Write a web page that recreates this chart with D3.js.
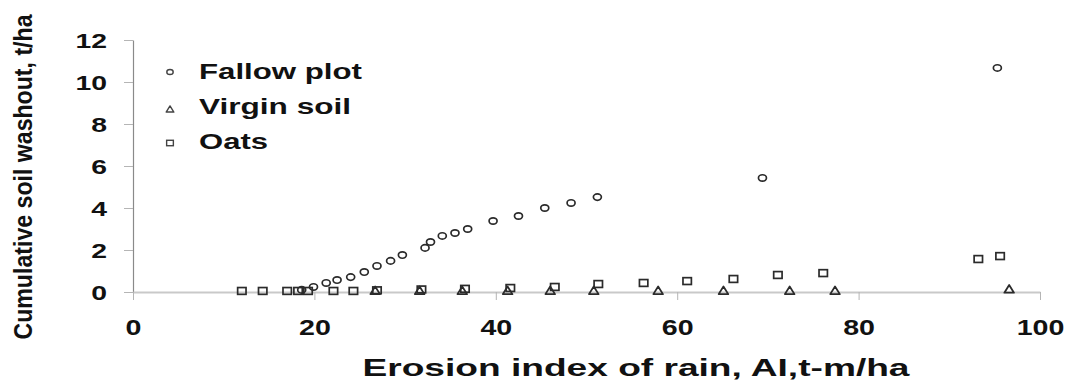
<!DOCTYPE html>
<html><head><meta charset="utf-8">
<script src="https://cdn.jsdelivr.net/npm/d3@7"></script>
<style>body{margin:0;background:#fff}</style>
</head><body><svg id="c" width="1069" height="385"></svg>
<script>
const seriesNames = ["Fallow plot", "Virgin soil", "Oats"];
const fallowX = [18.6,19.9,21.3,22.5,24.0,25.5,26.9,28.4,29.7,32.2,32.8,34.1,35.5,36.9,39.7,42.5,45.4,48.3,51.2,69.4,95.3];
const fallowY = [0.10,0.24,0.43,0.57,0.71,0.95,1.24,1.48,1.76,2.10,2.38,2.67,2.81,3.00,3.38,3.62,4.00,4.24,4.52,5.43,10.67];
const virginX = [26.7,31.6,36.3,41.3,46.0,50.8,57.9,65.1,72.4,77.4,96.6];
const virginY = [0.08,0.08,0.08,0.08,0.08,0.08,0.08,0.08,0.08,0.08,0.15];
const oatsX = [12.0,14.3,17.0,18.2,19.3,22.1,24.3,26.9,31.8,36.6,41.6,46.5,51.3,56.3,61.1,66.2,71.1,76.1,93.2,95.6];
const oatsY = [0.05,0.05,0.05,0.05,0.05,0.05,0.05,0.08,0.12,0.15,0.19,0.24,0.38,0.43,0.52,0.62,0.81,0.90,1.57,1.71];
const xTicks = [0,20,40,60,80,100];
const yTicks = [0,2,4,6,8,10,12];
const xTitle = "Erosion index of rain, AI,t-m/ha";
const yTitle = "Cumulative soil washout, t/ha";

const svg = d3.select("#c");
const FONT = "'Liberation Sans', Arial, sans-serif";
const x = d3.scaleLinear([0,100],[133,1040]);
const y = d3.scaleLinear([0,12],[292,40]);

// y axis
const gy = svg.append("g").attr("transform","translate(133,0)")
  .call(d3.axisLeft(y).tickValues(yTicks).tickSize(9).tickSizeOuter(0));
gy.select(".domain").attr("stroke","#8a8a8a").attr("stroke-width",1.2);
gy.selectAll(".tick line").attr("stroke","#b5b5b5");
gy.selectAll(".tick text").attr("x",null).attr("dy","0.36em")
  .attr("transform","translate(-26,0) scale(1.35,1)")
  .attr("text-anchor","end")
  .style("font-family",FONT).style("font-weight","bold").style("font-size","21px").attr("fill","#111");

// x axis
const gx = svg.append("g").attr("transform","translate(0,292)")
  .call(d3.axisBottom(x).tickValues(xTicks).tickSize(8).tickSizeOuter(0));
gx.select(".domain").attr("stroke","#c9c9c9").attr("stroke-width",2.2);
gx.selectAll(".tick line").attr("stroke","#b5b5b5");
gx.selectAll(".tick text").attr("y",null).attr("dy",null)
  .attr("transform","translate(0,43) scale(1.3,1)")
  .style("font-family",FONT).style("font-weight","bold").style("font-size","22px").attr("fill","#111");

// titles
svg.append("text").attr("x",636).attr("y",376).attr("text-anchor","middle")
  .attr("textLength",547).attr("lengthAdjust","spacingAndGlyphs")
  .style("font-family",FONT).style("font-weight","bold").style("font-size","23px").attr("fill","#111")
  .text(xTitle);
svg.append("text").attr("transform","translate(32,177) scale(1.25,1) rotate(-90)")
  .attr("text-anchor","middle").attr("textLength",325).attr("lengthAdjust","spacingAndGlyphs")
  .style("font-family",FONT).style("font-weight","bold").style("font-size","21px").attr("fill","#111")
  .text(yTitle);

// marker drawers
function circ(g, cx, cy, s, sw, col){
  g.append("ellipse").attr("cx",cx).attr("cy",cy).attr("rx",4*s).attr("ry",3.2*s)
   .attr("fill","none").attr("stroke",col).attr("stroke-width",sw);
}
function tri(g, cx, cy, s, sw, col){
  const w=4.8*s, h=3.8*s;
  g.append("path").attr("d",`M${cx-w},${cy+h}L${cx},${cy-h}L${cx+w},${cy+h}Z`)
   .attr("fill","none").attr("stroke",col).attr("stroke-width",sw).attr("stroke-linejoin","round");
}
function sq(g, cx, cy, s, sw, col){
  g.append("rect").attr("x",cx-4.2*s).attr("y",cy-3.4*s).attr("width",8.4*s).attr("height",6.8*s)
   .attr("fill","none").attr("stroke",col).attr("stroke-width",sw);
}

const gm = svg.append("g");
const MC = "#2b2b2b";
oatsX.forEach((v,i)=>sq(gm, x(v), y(oatsY[i]), 1, 1.7, MC));
virginX.forEach((v,i)=>tri(gm, x(v), y(virginY[i]), 1, 1.8, MC));
fallowX.forEach((v,i)=>circ(gm, x(v), y(fallowY[i]), 1, 1.7, MC));

// legend
const lg = svg.append("g");
const legY = [72,109,143];
const legBase = [79,114,149];
const legLen = [163,152,69];
const drawers = [circ, tri, sq];
seriesNames.forEach((n,i)=>{
  drawers[i](lg, 170, legY[i], 0.8, 1.4, "#444");
  lg.append("text").attr("x",199).attr("y",legBase[i])
    .attr("textLength",legLen[i]).attr("lengthAdjust","spacingAndGlyphs")
    .style("font-family",FONT).style("font-weight","bold").style("font-size","22px").attr("fill","#111")
    .text(n);
});
</script></body></html>
